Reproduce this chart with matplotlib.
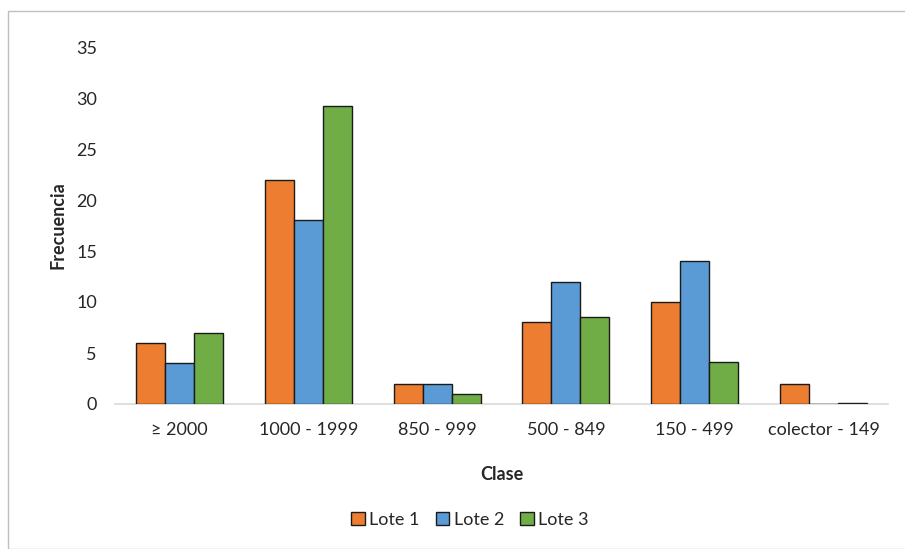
import matplotlib
matplotlib.use("Agg")
import matplotlib.pyplot as plt
import numpy as np
from matplotlib.patches import Rectangle

plt.rcParams['font.family'] = ['Lato', 'DejaVu Sans']

categories = ["≥ 2000", "1000 - 1999", "850 - 999", "500 - 849", "150 - 499", "colector - 149"]
lote1 = [6, 22, 2, 8, 10, 2]
lote2 = [4, 18, 2, 12, 14, 0]
lote3 = [7, 29.2, 1, 8.5, 4.1, 0.1]
series_names = ["Lote 1", "Lote 2", "Lote 3"]
colors = ["#ED7D31", "#5B9BD5", "#70AD47"]
yticks = [0, 5, 10, 15, 20, 25, 30, 35]

fig = plt.figure(figsize=(9.05, 5.49), dpi=100)
# outer chart border
fig.patches.append(Rectangle((8/905, 0), 1 - 8/905 + 0.01, 1 - 11/549, transform=fig.transFigure,
                             fill=False, edgecolor="#bfbfbf", linewidth=1.0))
ax = fig.add_axes([115/905, 1 - 404/549, (888 - 115)/905, (404 - 47)/549])

x = np.arange(len(categories))
w = 0.225
for i, (vals, name, c) in enumerate(zip([lote1, lote2, lote3], series_names, colors)):
    ax.bar(x + (i - 1) * w, vals, width=w, color=c, edgecolor="#1a1a1a", linewidth=1.0, label=name, zorder=3)

ax.set_xlim(-0.5, len(categories) - 0.5)
ax.set_ylim(0, 35)
ax.set_yticks(yticks)
ax.set_xticks(x)
ax.set_xticklabels(categories)
ax.tick_params(axis='both', length=0, labelsize=13, colors="#262626")
ax.tick_params(axis='x', pad=13)
ax.tick_params(axis='y', pad=13)
for s in ["top", "right", "left"]:
    ax.spines[s].set_visible(False)
ax.spines["bottom"].set_color("#d9d9d9")
ax.spines["bottom"].set_linewidth(1.2)

ax.set_xlabel("Clase", fontsize=13, fontweight="bold", labelpad=20, color="#262626")
ax.set_ylabel("Frecuencia", fontsize=13, fontweight="bold", labelpad=7, color="#262626")

leg = fig.legend(loc="center", bbox_to_anchor=(470/905, 1 - 520/549), ncol=3, frameon=False,
                 fontsize=13, handlelength=0.75, handleheight=0.75, handletextpad=0.25,
                 columnspacing=0.9, labelcolor="#262626")

fig.savefig("out.png", dpi=100)
